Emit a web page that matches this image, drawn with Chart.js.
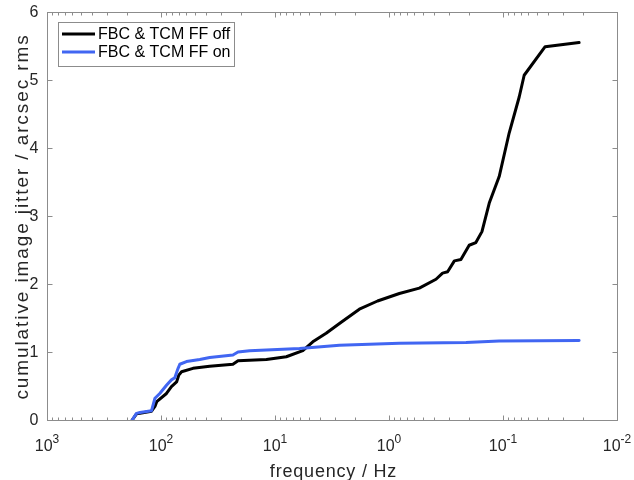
<!DOCTYPE html>
<html>
<head>
<meta charset="utf-8">
<script src="https://cdn.jsdelivr.net/npm/chart.js@4/dist/chart.umd.min.js"></script>
<style>
  html, body { margin: 0; padding: 0; background: #fff; }
  #wrap { width: 634px; height: 480px; }
</style>
</head>
<body>
<div id="wrap"><canvas id="chart" width="634" height="480"></canvas></div>
<script>
// --- data ---
const freqOff = [179, 164, 153, 121, 113, 109, 89.5, 81, 73, 69.8,
    66, 52.4, 37.4, 23.4, 21.1, 11.9, 7.96, 5.70, 4.66, 3.56,
    2.72, 1.82, 1.26, 0.811, 0.542, 0.387, 0.339, 0.306, 0.267, 0.234,
    0.198, 0.173, 0.153, 0.132, 0.108, 0.0883, 0.0721, 0.0652, 0.0427, 0.0215];
const jitterOff = [0, 0.09, 0.10, 0.13, 0.20, 0.27, 0.39, 0.49, 0.56, 0.66,
    0.71, 0.76, 0.79, 0.82, 0.87, 0.89, 0.93, 1.02, 1.15, 1.275,
    1.42, 1.63, 1.75, 1.86, 1.94, 2.07, 2.16, 2.18, 2.34, 2.36,
    2.57, 2.61, 2.77, 3.19, 3.58, 4.22, 4.75, 5.07, 5.49, 5.55];

const freqOn = [179, 164, 153, 121, 113, 102.5, 89.5, 81, 75.7, 70.8,
    68.4, 59.8, 45.7, 37.4, 23.4, 21.1, 16.7, 11.9, 6.09, 2.72,
    0.811, 0.211, 0.108, 0.0215];
const jitterOn = [0, 0.098, 0.11, 0.137, 0.32, 0.39, 0.51, 0.59, 0.62, 0.76,
    0.82, 0.86, 0.89, 0.92, 0.956, 1.0, 1.02, 1.03, 1.05, 1.10,
    1.13, 1.14, 1.16, 1.17];

const seriesLabels = ['FBC & TCM FF off', 'FBC & TCM FF on'];
const yTicks = [0, 1, 2, 3, 4, 5, 6];
const xTickExps = [3, 2, 1, 0, -1, -2];
const xTitle = 'frequency / Hz';
const yTitle = 'cumulative image jitter / arcsec rms';

const FONT = '"Liberation Sans", Arial, sans-serif';
const TEXT = '#262626';
const AXIS = '#8c8c8c';

function toPoints(xs, ys) {
    return xs.map((x, i) => ({ x: x, y: ys[i] }));
}

// MATLAB-like box, inside ticks, labels and legend
const matlabAxes = {
    id: 'matlabAxes',
    afterDraw(chart) {
        const ctx = chart.ctx;
        const a = chart.chartArea;
        const xs = chart.scales.x;
        const ys = chart.scales.y;
        const L = Math.round(a.left) + 0.5, R = Math.round(a.right) + 0.5;
        const T = Math.round(a.top) + 0.5, B = Math.round(a.bottom) + 0.5;

        ctx.save();
        ctx.strokeStyle = AXIS;
        ctx.lineWidth = 1;
        ctx.strokeRect(L, T, R - L, B - T);

        // x ticks (log, major + minor), top and bottom
        ctx.beginPath();
        for (let e = -2; e < 3; e++) {
            for (let m = 1; m <= 9; m++) {
                const px = Math.round(xs.getPixelForValue(m * Math.pow(10, e))) + 0.5;
                const len = m === 1 ? 5 : 3;
                ctx.moveTo(px, B); ctx.lineTo(px, B - len);
                ctx.moveTo(px, T); ctx.lineTo(px, T + len);
            }
        }
        // y ticks, left and right
        yTicks.forEach(v => {
            const py = Math.round(ys.getPixelForValue(v)) + 0.5;
            ctx.moveTo(L, py); ctx.lineTo(L + 5, py);
            ctx.moveTo(R, py); ctx.lineTo(R - 5, py);
        });
        ctx.stroke();

        // tick labels
        ctx.fillStyle = TEXT;
        ctx.font = '16px ' + FONT;
        ctx.textAlign = 'right';
        ctx.textBaseline = 'middle';
        yTicks.forEach(v => {
            ctx.fillText(String(v), L - 9, ys.getPixelForValue(v) + 1);
        });

        xTickExps.forEach(e => {
            const px = xs.getPixelForValue(Math.pow(10, e));
            ctx.font = '16px ' + FONT;
            const wb = ctx.measureText('10').width;
            ctx.font = '12px ' + FONT;
            const sup = String(e);
            const ws = ctx.measureText(sup).width;
            const x0 = px - (wb + ws) / 2;
            ctx.textAlign = 'left';
            ctx.textBaseline = 'alphabetic';
            ctx.font = '16px ' + FONT;
            ctx.fillText('10', x0, B + 30);
            ctx.font = '12px ' + FONT;
            ctx.fillText(sup, x0 + wb, B + 22);
        });

        // axis titles
        ctx.font = '18px ' + FONT;
        ctx.letterSpacing = '0.8px';
        ctx.textAlign = 'center';
        ctx.textBaseline = 'alphabetic';
        ctx.fillText(xTitle, (L + R) / 2 + 1, B + 56);

        ctx.save();
        ctx.translate(28, (T + B) / 2);
        ctx.rotate(-Math.PI / 2);
        ctx.font = '19px ' + FONT;
        ctx.letterSpacing = '1.9px';
        ctx.fillText(yTitle, 0, 0);
        ctx.restore();
        ctx.letterSpacing = '0px';

        // legend
        const lx = 58.5, ly = 22.5, lw = 176, lh = 44;
        ctx.fillStyle = '#fff';
        ctx.fillRect(lx, ly, lw, lh);
        ctx.strokeStyle = AXIS;
        ctx.strokeRect(lx, ly, lw, lh);
        ctx.font = '16px ' + FONT;
        ctx.textAlign = 'left';
        ctx.textBaseline = 'middle';
        chart.data.datasets.forEach((ds, i) => {
            const yy = 34 + i * 18;
            ctx.strokeStyle = ds.borderColor;
            ctx.lineWidth = 3;
            ctx.beginPath();
            ctx.moveTo(62, yy); ctx.lineTo(95, yy);
            ctx.stroke();
            ctx.fillStyle = '#000';
            ctx.fillText(ds.label, 98, yy + 1);
        });
        ctx.restore();
    }
};

new Chart(document.getElementById('chart'), {
    type: 'line',
    data: {
        datasets: [
            {
                label: seriesLabels[0],
                data: toPoints(freqOff, jitterOff),
                borderColor: '#000000',
                borderWidth: 3,
                pointRadius: 0,
                tension: 0,
                order: 1
            },
            {
                label: seriesLabels[1],
                data: toPoints(freqOn, jitterOn),
                borderColor: '#4166f2',
                borderWidth: 3,
                pointRadius: 0,
                tension: 0,
                order: 0
            }
        ]
    },
    options: {
        responsive: false,
        animation: false,
        layout: { padding: { left: 47, right: 17, top: 12, bottom: 60 } },
        elements: { line: { borderJoinStyle: 'round', borderCapStyle: 'round' } },
        plugins: {
            legend: { display: false },
            tooltip: { enabled: false }
        },
        scales: {
            x: {
                type: 'logarithmic',
                reverse: true,
                min: 0.01,
                max: 1000,
                display: false
            },
            y: {
                type: 'linear',
                min: 0,
                max: 6,
                display: false
            }
        }
    },
    plugins: [matlabAxes]
});
</script>
</body>
</html>
